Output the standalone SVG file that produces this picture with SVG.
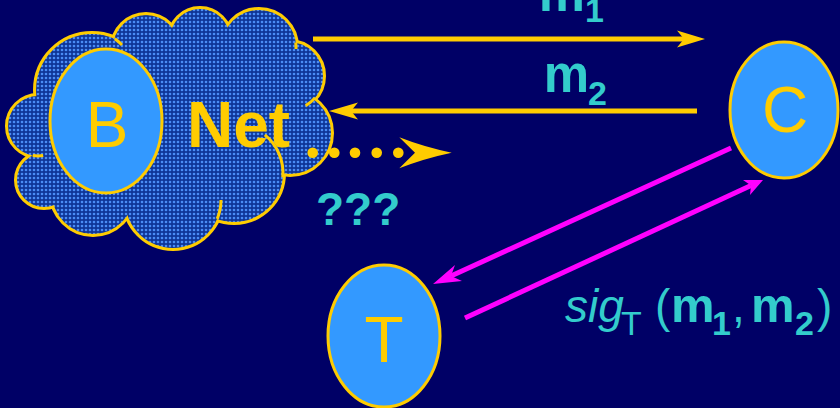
<svg xmlns="http://www.w3.org/2000/svg" width="840" height="408" viewBox="0 0 840 408">
<defs>
<pattern id="dots" width="4" height="4" patternUnits="userSpaceOnUse"><rect width="4" height="4" fill="#0e3597"/><circle cx="2" cy="2" r="1.3" fill="#4a8cf5"/></pattern>
<style>
.node{fill:#3399FF;stroke:#FFCC00;stroke-width:3}
.nl{fill:#FFCC00;font-family:"Liberation Sans",Arial,sans-serif;font-size:64px;text-anchor:middle}
.lbl{fill:#33CCCC;font-family:"Liberation Sans",Arial,sans-serif}
.b{font-weight:bold}
.yl{stroke:#FFCC00;stroke-width:5;fill:none}
.mg{stroke:#FF00FF;stroke-width:5;fill:none}
.cs{fill:none;stroke:#FFCC00;stroke-width:6}
.cf{fill:url(#dots)}
.curl{fill:none;stroke:#FFCC00;stroke-width:3}
</style>
</defs>
<rect width="840" height="408" fill="#000066"/>
<g id="net">
<g class="cs">
<circle cx="38" cy="126" r="30"/><circle cx="92" cy="90" r="56"/><circle cx="146" cy="48" r="33"/><circle cx="200" cy="39" r="30"/><circle cx="259" cy="47" r="37"/><circle cx="289" cy="76" r="34"/><circle cx="290" cy="133" r="41"/><circle cx="234" cy="173" r="49"/><circle cx="173" cy="200" r="48"/><circle cx="93" cy="193" r="41"/><circle cx="44" cy="180" r="27"/>
</g>
<g class="cf">
<circle cx="38" cy="126" r="30"/><circle cx="92" cy="90" r="56"/><circle cx="146" cy="48" r="33"/><circle cx="200" cy="39" r="30"/><circle cx="259" cy="47" r="37"/><circle cx="289" cy="76" r="34"/><circle cx="290" cy="133" r="41"/><circle cx="234" cy="173" r="49"/><circle cx="173" cy="200" r="48"/><circle cx="93" cy="193" r="41"/><circle cx="44" cy="180" r="27"/>
<polygon points="38,126 92,90 146,48 200,39 259,47 289,76 290,133 234,173 173,200 93,193 44,180"/>
</g>
<g class="curl">
<path d="M264.8,134.9 A49,49 0 0 1 282.8,177.3"/>
<path d="M315,97.9 A34,34 0 0 1 305.7,105.6"/>
<path d="M114.8,38.8 A56,56 0 0 1 122,45"/>
<path d="M217.2,218.8 A48,48 0 0 0 221,200"/>
<path d="M295.7,42.5 A37,37 0 0 1 296,49"/>
<path d="M32.8,155.5 A30,30 0 0 0 43.2,155.5"/>
</g>
<text x="187" y="147" fill="#FFCC00" font-family="Liberation Sans,Arial,sans-serif" font-weight="bold" font-size="64">Net</text>
</g>
<g id="B"><ellipse class="node" cx="106" cy="121" rx="56" ry="72"/><text class="nl" x="107" y="147">B</text></g>
<g id="C"><ellipse class="node" cx="784" cy="110" rx="54" ry="68"/><text class="nl" x="785" y="132">C</text></g>
<g id="T"><ellipse class="node" cx="384" cy="336" rx="56" ry="71"/><text class="nl" x="384" y="362">T</text></g>
<g id="connectors">
<line class="yl" x1="313" y1="39" x2="684" y2="39"/>
<polygon fill="#FFCC00" points="705,39 677,30.5 684,39 677,47.5"/>
<line class="yl" x1="697" y1="111" x2="351" y2="111"/>
<polygon fill="#FFCC00" points="329,111 358,102.5 351,111 358,119.5"/>
<g fill="#FFCC00">
<circle cx="312.7" cy="152.7" r="5.3"/><circle cx="334.3" cy="152.7" r="5.3"/><circle cx="355" cy="152.7" r="5.3"/><circle cx="376.7" cy="152.7" r="5.3"/><circle cx="398.3" cy="152.7" r="5.3"/>
<path d="M451.7,152.7 Q424,147 399.3,137.3 L415,152.7 L399.3,168.3 Q424,158.5 451.7,152.7 Z"/>
</g>
<line class="mg" x1="731" y1="148" x2="451" y2="276"/>
<polygon fill="#FF00FF" points="433,284 455,265 451,276 462,281"/>
<line class="mg" x1="465" y1="318" x2="751" y2="185.5"/>
<polygon fill="#FF00FF" points="763,180 743,180 751,185.5 750,195"/>
</g>
<g id="labels">
<text class="lbl b"><tspan x="538.7" y="11" font-size="52">m</tspan><tspan x="585" y="22" font-size="34">1</tspan></text>
<text class="lbl b"><tspan x="543.7" y="92" font-size="51">m</tspan><tspan x="588" y="105" font-size="34">2</tspan></text>
<text class="lbl b" x="316" y="225" font-size="46">???</text>
<text class="lbl" font-size="46"><tspan x="565" y="322" font-style="italic">sig</tspan><tspan x="621" y="335" font-size="34">T</tspan><tspan x="655" y="322">(</tspan><tspan x="671" y="322" font-weight="bold" font-size="49">m</tspan><tspan x="712" y="335" font-weight="bold" font-size="34">1</tspan><tspan x="732" y="322">,</tspan><tspan x="751" y="322" font-weight="bold" font-size="49">m</tspan><tspan x="795" y="335" font-weight="bold" font-size="34">2</tspan><tspan x="817" y="322">)</tspan></text>
</g>
</svg>
